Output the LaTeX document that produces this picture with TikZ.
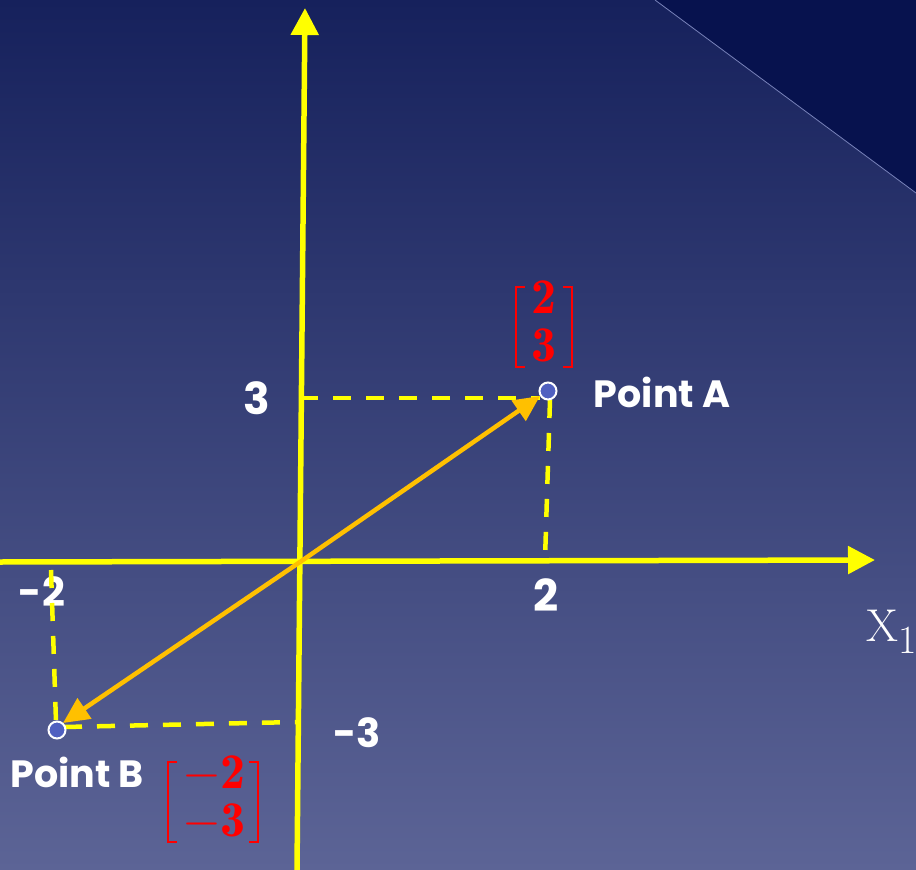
\RequirePackage{fix-cm}
\documentclass[tikz,border=0pt]{standalone}
\usepackage{amsmath}
\usepackage{fontspec}
\setsansfont{Poppins}
\usetikzlibrary{arrows.meta}
\definecolor{bgtop}{RGB}{22,33,92}
\definecolor{bgmid}{RGB}{42,54,112}
\definecolor{bgbot}{RGB}{92,100,150}
\definecolor{corner}{RGB}{7,18,78}
\definecolor{cornerline}{RGB}{120,130,185}
\definecolor{axisyel}{RGB}{255,255,0}
\definecolor{vecor}{RGB}{255,192,0}
\definecolor{ptfill}{RGB}{80,96,192}
\definecolor{matred}{RGB}{255,0,0}
\begin{document}
\begin{tikzpicture}[x=1pt,y=-1pt,
  axisline/.style={draw=axisyel, line width=5.5pt, -{Triangle[length=27pt,width=27pt]}},
  guide/.style={draw=axisyel, line width=4.5pt, dash pattern=on 18pt off 15pt},
  vecline/.style={draw=vecor, line width=4.5pt, -{Triangle[length=26pt,width=24pt]}},
  ptdot/.style={circle, fill=ptfill, draw=white, line width=2pt, minimum size=17pt, inner sep=0pt},
  lab/.style={text=white, inner sep=0pt, font=\sffamily\bfseries\fontsize{44}{50}\selectfont},
  nlab/.style={text=white, inner sep=0pt, font=\sffamily\bfseries\fontsize{40}{46}\selectfont},
  ptlab/.style={text=white, inner sep=0pt, font=\sffamily\bfseries\fontsize{38}{44}\selectfont},
  matlab/.style={text=matred, inner sep=0pt, font=\fontsize{50}{50}\selectfont},
  brk/.style={draw=matred, line width=2.6pt, line cap=butt, line join=miter}]
\useasboundingbox (0,0) rectangle (916,870);
\begin{scope}
\clip (0,0) rectangle (916,870);
% background
\shade[top color=bgtop, middle color=bgmid, bottom color=bgbot] (0,0) rectangle (916,870);
\fill[corner] (655,0) -- (916,0) -- (916,193) -- cycle;
\draw[cornerline, line width=0.8pt] (655,0) -- (916,193);
% coordinates
\coordinate (O) at (300,562);
\coordinate (ybot) at (297,870);
\coordinate (ytop) at (305,8);
\coordinate (xleft) at (0,562);
\coordinate (xright) at (875,560);
\coordinate (A) at (548,391);
\coordinate (B) at (57,730);
\coordinate (Ay) at (300,398);
\coordinate (Ax) at (545,560);
\coordinate (Bx) at (51,570);
\coordinate (By) at (297,722);
% label under the guide
\node[nlab] (lm2) at (42,592) {-2};
% guides
\draw[guide] (Ay) -- (540,398);
\draw[guide] (550,400) -- (Ax);
\draw[guide] (Bx) -- (56,722);
\draw[guide] (64,727) -- (By);
% axes
\draw[axisline] (xleft) -- (xright);
\draw[axisline] (ybot) -- (ytop);
% vectors
\draw[vecline] (O) -- (540,396);
\draw[vecline] (O) -- (63,723);
% points
\node[ptdot] (PA) at (A) {};
\node[ptdot] (PB) at (B) {};
% labels
\node[lab] (l3) at (257,398) {3};
\node[lab] (l2) at (546,595) {2};
\node[nlab] (lm3) at (357,733) {-3};
\node[ptlab] (la) at (662,392) {Point A};
\node[ptlab] (lb) at (77,772) {Point B};
% column vectors
\node[matlab] (ma) at (544,327) {$\begin{matrix}\mathbf{2}\\[-2pt]\mathbf{3}\end{matrix}$};
\draw[brk] ([shift={(-19,-40)}]ma.center) -- ++(-9,0) -- ++(0,80) -- ++(9,0);
\draw[brk] ([shift={(19,-40)}]ma.center) -- ++(9,0) -- ++(0,80) -- ++(-9,0);
\node[matlab] (mb) at (214,802) {$\begin{matrix}-\mathbf{2}\\[-2pt]-\mathbf{3}\end{matrix}$};
\draw[brk] ([shift={(-37,-40)}]mb.center) -- ++(-9,0) -- ++(0,80) -- ++(9,0);
\draw[brk] ([shift={(35,-40)}]mb.center) -- ++(9,0) -- ++(0,80) -- ++(-9,0);
\node[text=white, inner sep=0pt, anchor=west, font=\fontsize{46}{50}\selectfont] (xl) at (866,632) {X\raisebox{-12pt}{\fontsize{40}{40}\selectfont 1}};
\end{scope}
\end{tikzpicture}
\end{document}
